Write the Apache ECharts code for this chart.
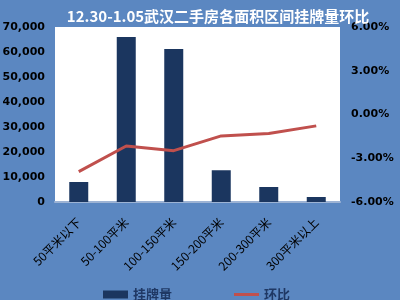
<!DOCTYPE html>
<html><head><meta charset="utf-8">
<script src="https://cdn.jsdelivr.net/npm/echarts@6/dist/echarts.min.js"></script>
<style>html,body{margin:0;padding:0;background:#5B87C1;}#c{width:400px;height:300px;}</style>
</head><body><div id="c"></div>
<script>
var categories = ['50平米以下','50-100平米','100-150平米','150-200平米','200-300平米','300平米以上'];
var listings = [8000, 66000, 61200, 12700, 6000, 2000];
var momPct = [-3.92, -2.16, -2.48, -1.47, -1.30, -0.78];
var leftTicks = [0, 10000, 20000, 30000, 40000, 50000, 60000, 70000];
var rightTicks = [-6, -3, 0, 3, 6];
var fontCJK = '"Noto Sans CJK SC", "DejaVu Sans", sans-serif';
var chart = echarts.init(document.getElementById('c'));
chart.setOption({
  backgroundColor: '#5B87C1',
  animation: false,
  title: {
    text: '12.30-1.05武汉二手房各面积区间挂牌量环比',
    left: 213, textAlign: 'center', top: 4,
    textStyle: {color: '#ffffff', fontSize: 15, fontWeight: 'bold', fontFamily: fontCJK}
  },
  grid: {left: 55, right: 60, top: 27, bottom: 98, show: true, backgroundColor: '#ffffff', borderWidth: 0,
    containLabel: false, outerBoundsMode: 'none'},
  legend: {
    left: 98, top: 283, itemGap: 62, itemWidth: 25, itemHeight: 8, symbolKeepAspect: true,
    textStyle: {color: '#1F3864', fontSize: 13, fontWeight: 'bold', fontFamily: fontCJK},
    data: [{name: '挂牌量', icon: 'rect'}, {name: '环比', icon: 'path://M0,0L25,0L25,3L0,3Z'}]
  },
  xAxis: {
    type: 'category', data: categories,
    axisLine: {show: true, lineStyle: {color: '#9DB3D4', width: 2}},
    axisTick: {show: false},
    axisLabel: {rotate: 45, color: '#000000', fontSize: 12, margin: 18, interval: 0, fontFamily: fontCJK}
  },
  yAxis: [{
    type: 'value', min: leftTicks[0], max: leftTicks[leftTicks.length-1], interval: 10000,
    axisLine: {show: false}, axisTick: {show: false}, splitLine: {show: false},
    axisLabel: {color: '#000000', fontSize: 11, fontWeight: 'bold', margin: 10, fontFamily: 'DejaVu Sans, sans-serif'}
  }, {
    type: 'value', min: rightTicks[0], max: rightTicks[rightTicks.length-1], interval: 3,
    axisLine: {show: false}, axisTick: {show: false}, splitLine: {show: false},
    axisLabel: {color: '#000000', fontSize: 11, fontWeight: 'bold', margin: 11, align: 'left', fontFamily: 'DejaVu Sans, sans-serif',
      formatter: function(v){ return v.toFixed(2) + '%'; }}
  }],
  series: [{
    name: '挂牌量', type: 'bar', data: listings, barWidth: '40%',
    itemStyle: {color: '#1B365F'}
  }, {
    name: '环比', type: 'line', yAxisIndex: 1, data: momPct,
    symbol: 'none', lineStyle: {color: '#C0504D', width: 3}, itemStyle: {color: '#C0504D'}
  }]
});
</script></body></html>
